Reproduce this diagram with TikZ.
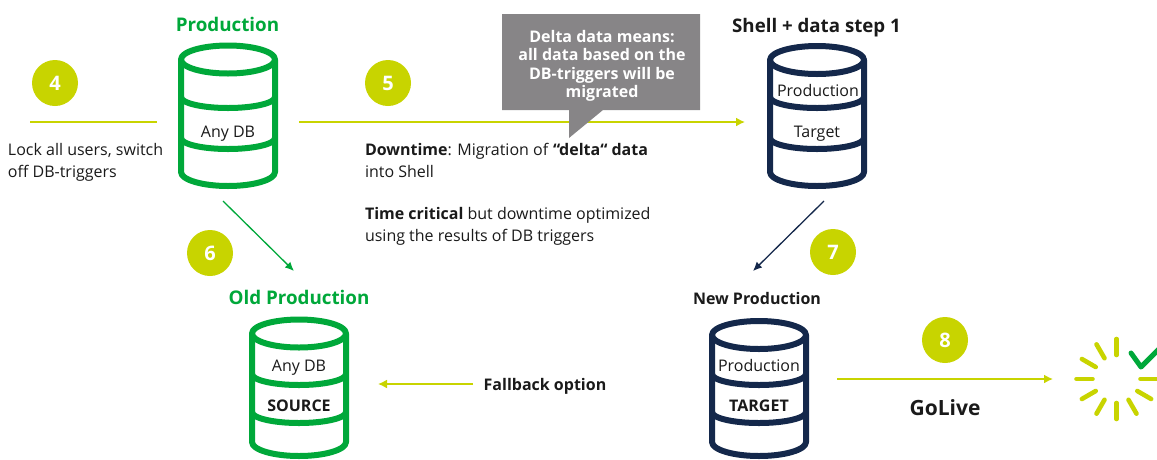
\documentclass[tikz,border=0pt]{standalone}
\usepackage{fontspec}
\setmainfont{Open Sans}
\usetikzlibrary{arrows.meta}
\definecolor{lime}{HTML}{C8D400}
\definecolor{grn}{HTML}{00A83A}
\definecolor{navy}{HTML}{14284B}
\definecolor{txt}{HTML}{1A1A1A}
\definecolor{callgray}{HTML}{878587}
\tikzset{
  x=1pt,y=-1pt,
  every node/.style={inner sep=0pt,outer sep=0pt,text=txt,font=\fontsize{16}{22}\selectfont},
  badge/.style={circle,fill=lime,minimum size=46pt,text=white,font=\fontsize{20}{22}\bfseries\selectfont},
  head/.style={font=\fontsize{18.8}{22}\bfseries\selectfont,text=grn},
  headk/.style={font=\fontsize{18.7}{20}\bfseries\selectfont,text=txt},
  boldlabel/.style={font=\fontsize{16}{18}\bfseries\selectfont},
  limeline/.style={draw=lime,line width=1.6pt},
  limearrow/.style={limeline,-{Latex[length=9pt,width=9pt]}},
  body/.style={align=left,anchor=north west},
  ray/.style={draw=lime,line width=4.6pt,line cap=round},
  cyl/.style={line width=6pt,line join=round,fill=white}
}
% \dbcyl{colour}{cx}{ellipse cy}{band1}{band2}{bottom}
\newcommand{\dbcyl}[6]{%
  \draw[cyl,draw=#1] (#2-47,#3) -- (#2-47,#6-14) arc[start angle=180,end angle=0,x radius=47,y radius=14]
     -- (#2+47,#3);
  \draw[cyl,draw=#1] (#2,#3) ellipse[x radius=47,y radius=14];
  \draw[line width=6pt,draw=#1] (#2-47,#4-11) arc[start angle=180,end angle=0,x radius=47,y radius=11];
  \draw[line width=6pt,draw=#1] (#2-47,#5-11) arc[start angle=180,end angle=0,x radius=47,y radius=11];
}
\begin{document}
\begin{tikzpicture}
\useasboundingbox (0,0) rectangle (1157,459);
\clip (0,0) rectangle (1157,459);

% cylinders
\dbcyl{grn}{228}{59.5}{108}{149}{186}
\dbcyl{grn}{299}{333.5}{385}{423}{456}
\dbcyl{navy}{817}{60}{108}{149}{186}
\dbcyl{navy}{759}{335}{385}{423}{456}

% anchors for connectors
\coordinate (lockA) at (30,122);
\coordinate (lockB) at (157,122);
\coordinate (deltaA) at (299,122);
\coordinate (deltaB) at (745,122);
\coordinate (prodOut) at (223,201);
\coordinate (oldIn) at (294,271);
\coordinate (shellOut) at (824,201);
\coordinate (newIn) at (753,271);
\coordinate (fallA) at (473,384);
\coordinate (fallB) at (378,384);
\coordinate (liveA) at (837,379);
\coordinate (liveB) at (1053,379);

% connectors
\draw[limeline] (lockA) -- (lockB);
\draw[limearrow] (deltaA) -- (deltaB);
\draw[draw=grn,line width=1.3pt,-{Latex[length=9pt,width=8pt]}] (prodOut) -- (oldIn);
\draw[draw=navy,line width=1.3pt,-{Latex[length=9pt,width=8pt]}] (shellOut) -- (newIn);
\draw[limearrow] (fallA) -- (fallB);
\draw[limearrow] (liveA) -- (liveB);

% callout
\fill[callgray] (502,14) -- (700,14) -- (700,110) -- (603,110) -- (569,138) -- (569,110) -- (502,110) -- cycle;
\node[align=center,text=white,font=\fontsize{16}{18.5}\bfseries\selectfont] (callout) at (602,66)
  {Delta data means:\\all data based on the\\DB-triggers will be\\migrated};

% badges
\node[badge] (b4) at (55,83) {4};
\node[badge] (b5) at (388,83) {5};
\node[badge] (b6) at (210,253) {6};
\node[badge] (b7) at (833,252) {7};
\node[badge] (b8) at (945,340) {8};

% headings
\node[head] (hprod) at (227.5,24.5) {Production};
\node[head] (hold) at (299,297.5) {Old Production};
\node[headk] (hshell) at (816.5,27.5) {Shell + data step 1};
\node[boldlabel] (hnew) at (757,298.5) {New Production};

% cylinder labels
\node (l1) at (228,134) {Any DB};
\node (l2) at (299,368) {Any DB};
\node[boldlabel] (l3) at (299,406) {SOURCE};
\node (l4) at (818,90) {Production};
\node (l5) at (817,134) {Target};
\node (l6) at (759,365) {Production};
\node[boldlabel] (l7) at (759,406) {TARGET};

% body texts
\node[body] (t1) at (8,143) {Lock all users, switch\\off DB-triggers};
\node[body] (t2) at (365,143) {\textbf{Downtime}: Migration of \textbf{“delta“ data}\\into Shell};
\node[body] (t3) at (365,207) {\textbf{Time critical} but downtime optimized\\using the results of DB triggers};
\node[boldlabel] (t4) at (545,386) {Fallback option};
\node[font=\fontsize{21}{24}\bfseries\selectfont] (t5) at (945,407.5) {GoLive};

% go-live burst
\foreach \a in {90,120,150,180,210,240,270,300,330,0}{
  \draw[ray] ({1116.5+24*cos(\a)},{379-24*sin(\a)}) -- ({1116.5+40*cos(\a)},{379-40*sin(\a)});
}
\draw[draw=grn,line width=5pt,line cap=round,line join=round] (1131,353) -- (1141,367) -- (1160,348);
\end{tikzpicture}
\end{document}
